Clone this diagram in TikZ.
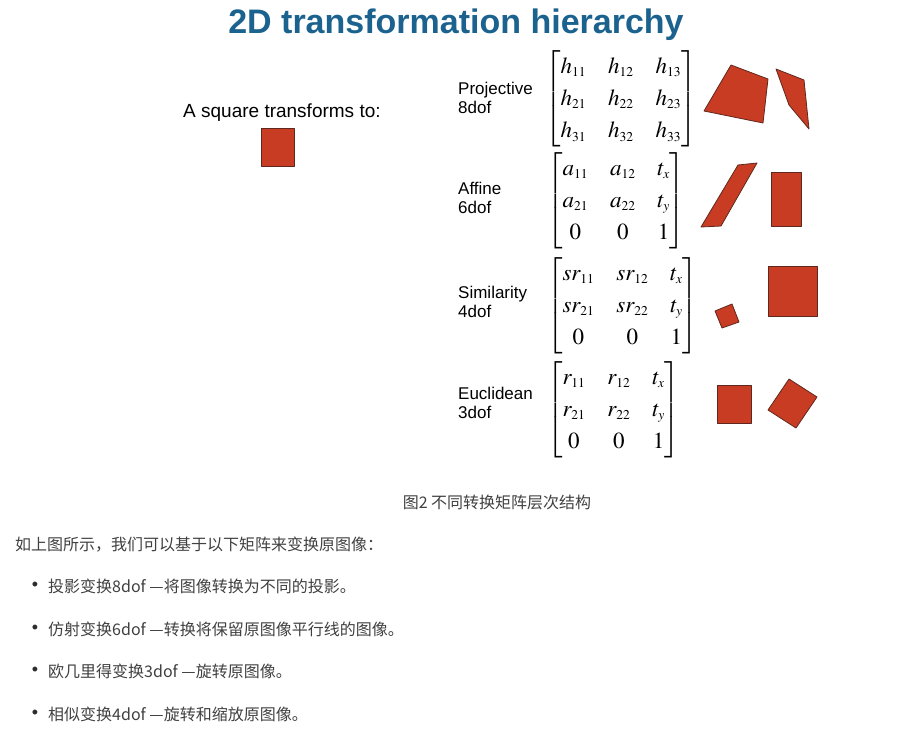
\documentclass[tikz,border=0pt]{standalone}
\usepackage{amsmath}
\usepackage{mathptmx}
\usepackage[no-math]{fontspec}
\setmainfont{Liberation Sans}
\newfontfamily\cjk{Noto Sans CJK SC}
\definecolor{titleblue}{RGB}{27,99,142}
\definecolor{sqred}{RGB}{200,60,35}
\definecolor{sqedge}{RGB}{95,40,30}
\definecolor{bodygray}{RGB}{64,64,64}
\renewcommand{\arraystretch}{1.15}
\setlength{\arraycolsep}{11pt}
\DeclareMathSizes{23}{23}{13.5}{10}

\begin{document}
\begin{tikzpicture}[
  x=1pt,y=-1pt,
  title/.style={font=\fontsize{34}{40}\selectfont\bfseries, text=titleblue, inner sep=0pt},
  lead/.style={font=\fontsize{19}{22}\selectfont, anchor=base west, inner sep=0pt},
  lbl/.style={font=\fontsize{17}{19}\selectfont, align=left, anchor=west, inner sep=0pt},
  mat/.style={font=\fontsize{23}{28}\selectfont, anchor=west, inner sep=0pt},
  sq/.style={fill=sqred, draw=sqedge, line width=0.8pt, line join=round},
  zh/.style={font=\cjk\fontsize{16}{20}\selectfont, text=bodygray, anchor=west, inner sep=0pt},
  dot/.style={font=\fontsize{18}{20}\selectfont, text=bodygray!70!black, inner sep=0pt}
]
\useasboundingbox (0,0) rectangle (921,733);

% Layout:
% top: title, square on the left
% right column: label, matrix, shapes (4 rows)
% bottom: caption and list

\node[title,anchor=base] (title) at (456,34) {2D transformation hierarchy};

\node[lead] (lead) at (183,118) {A square transforms to:};
\draw[sq] (261,128) rectangle (294,166);

%%%%%%%%%%%%%%%%%%%%%%%%%%%%%%%%%%%%%%%%%%%%%%%%%%%%
% Projective
%%%%%%%%%%%%%%%%%%%%%%%%%%%%%%%%%%%%%%%%%%%%%%%%%%%%
\node[lbl] (projlbl) at (458,98) {Projective\\8dof};
\node[mat] (projmat) at (545,99) {$\begin{bmatrix}
  h_{11} & h_{12} & h_{13}\\
  h_{21} & h_{22} & h_{23}\\
  h_{31} & h_{32} & h_{33}
\end{bmatrix}$};
\draw[sq] (731,65) -- (768,79) -- (763,123) -- (704,111) -- cycle;
\draw[sq] (776,69) -- (804,80) -- (809,129) -- (789,105) -- cycle;

%%%%%%%%%%%%%%%%%%%%%%%%%%%%%%%%%%%%%%%%%%%%%%%%%%%%
% Affine
%%%%%%%%%%%%%%%%%%%%%%%%%%%%%%%%%%%%%%%%%%%%%%%%%%%%
\node[lbl] (afflbl) at (458,198) {Affine\\6dof};
\node[mat] (affmat) at (547,201) {$\begin{bmatrix}
  a_{11} & a_{12} & t_x\\
  a_{21} & a_{22} & t_y\\
  0 & 0 & 1
\end{bmatrix}$};
\draw[sq] (738,165) -- (757,163) -- (721,226) -- (701,227) -- cycle;
\draw[sq] (771,172) rectangle (801,226);

%%%%%%%%%%%%%%%%%%%%%%%%%%%%%%%%%%%%%%%%%%%%%%%%%%%%
% Similarity
%%%%%%%%%%%%%%%%%%%%%%%%%%%%%%%%%%%%%%%%%%%%%%%%%%%%
\node[lbl] (simlbl) at (458,302) {Similarity\\4dof};
\node[mat] (simmat) at (547,306) {$\begin{bmatrix}
  sr_{11} & sr_{12} & t_x\\
  sr_{21} & sr_{22} & t_y\\
  0 & 0 & 1
\end{bmatrix}$};
\draw[sq] (715,311) -- (732,304) -- (739,322) -- (722,328) -- cycle;
\draw[sq] (768,266) rectangle (817,316);

%%%%%%%%%%%%%%%%%%%%%%%%%%%%%%%%%%%%%%%%%%%%%%%%%%%%
% Euclidean
%%%%%%%%%%%%%%%%%%%%%%%%%%%%%%%%%%%%%%%%%%%%%%%%%%%%
\node[lbl] (euclbl) at (458,403) {Euclidean\\3dof};
\node[mat] (eucmat) at (547,410) {$\begin{bmatrix}
  r_{11} & r_{12} & t_x\\
  r_{21} & r_{22} & t_y\\
  0 & 0 & 1
\end{bmatrix}$};
\draw[sq] (717,385) rectangle (751,423);
\draw[sq] (789,379) -- (817,397) -- (796,428) -- (768,410) -- cycle;

%%%%%%%%%%%%%%%%%%%%%%%%%%%%%%%%%%%%%%%%%%%%%%%%%%%%
% Caption and list
%%%%%%%%%%%%%%%%%%%%%%%%%%%%%%%%%%%%%%%%%%%%%%%%%%%%
\node[zh,anchor=center] (caption) at (497,502) {图2 不同转换矩阵层次结构};
\node[zh] (intro) at (15,545) {如上图所示，我们可以基于以下矩阵来变换原图像：};

\node[dot] (b1) at (35,586) {•};
\node[zh] (item1) at (48,586) {投影变换8dof —将图像转换为不同的投影。};
\node[dot] (b2) at (35,629) {•};
\node[zh] (item2) at (48,629) {仿射变换6dof —转换将保留原图像平行线的图像。};
\node[dot] (b3) at (35,671) {•};
\node[zh] (item3) at (48,671) {欧几里得变换3dof —旋转原图像。};
\node[dot] (b4) at (35,714) {•};
\node[zh] (item4) at (48,714) {相似变换4dof —旋转和缩放原图像。};

\end{tikzpicture}
\end{document}
